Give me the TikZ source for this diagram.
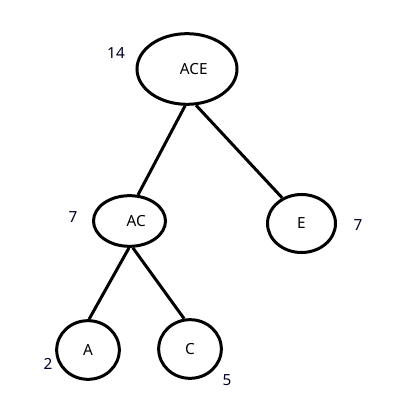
\documentclass[tikz,border=0pt]{standalone}
\usepackage{fontspec}
\setmainfont{Noto Sans}
\usetikzlibrary{shapes.geometric}
\tikzset{
  setnode/.style={draw, ellipse, line width=2.25pt, inner sep=0pt, font=\fontsize{11.5}{13}\selectfont},
  wlabel/.style={font=\fontsize{11.5}{13}\selectfont, text=black!85!blue},
  edge/.style={line width=2.25pt},
}
\begin{document}
\begin{tikzpicture}[x=0.75pt, y=-0.75pt]
  \fill[white] (0,0) rectangle (409,402);
  \useasboundingbox (0,0) rectangle (409,402);

  % --- tree nodes ---------------------------------------------------
  \node[setnode, minimum width=75pt, minimum height=53pt] (ace) at (187,69) {\hspace*{10pt}ACE};
  \node[setnode, minimum width=54pt, minimum height=38pt] (ac) at (129.5,221) {\hspace*{10pt}AC};
  \node[setnode, minimum width=51pt, minimum height=43.5pt] (e) at (301.5,223.5) {E};
  \node[setnode, minimum width=47pt, minimum height=44pt] (a) at (88,350) {A};
  \node[setnode, minimum width=47pt, minimum height=44pt] (c) at (190,349) {C};

  % weights
  \node[wlabel] (w14) at (116,53) {14};
  \node[wlabel] (wac) at (73,217) {7};
  \node[wlabel] (we) at (358,225) {7};
  \node[wlabel] (wa) at (48,364) {2};
  \node[wlabel] (wc) at (227,380) {5};

  % --- edges ---------------------------------------------------------
  \draw[edge] (ace.-93) -- (ac.72);
  \draw[edge] (ace.-76) -- (e.127);
  \draw[edge] (ac.-91) -- (a.88);
  \draw[edge] (ac.-83) -- (c.101);

\end{tikzpicture}
\end{document}
